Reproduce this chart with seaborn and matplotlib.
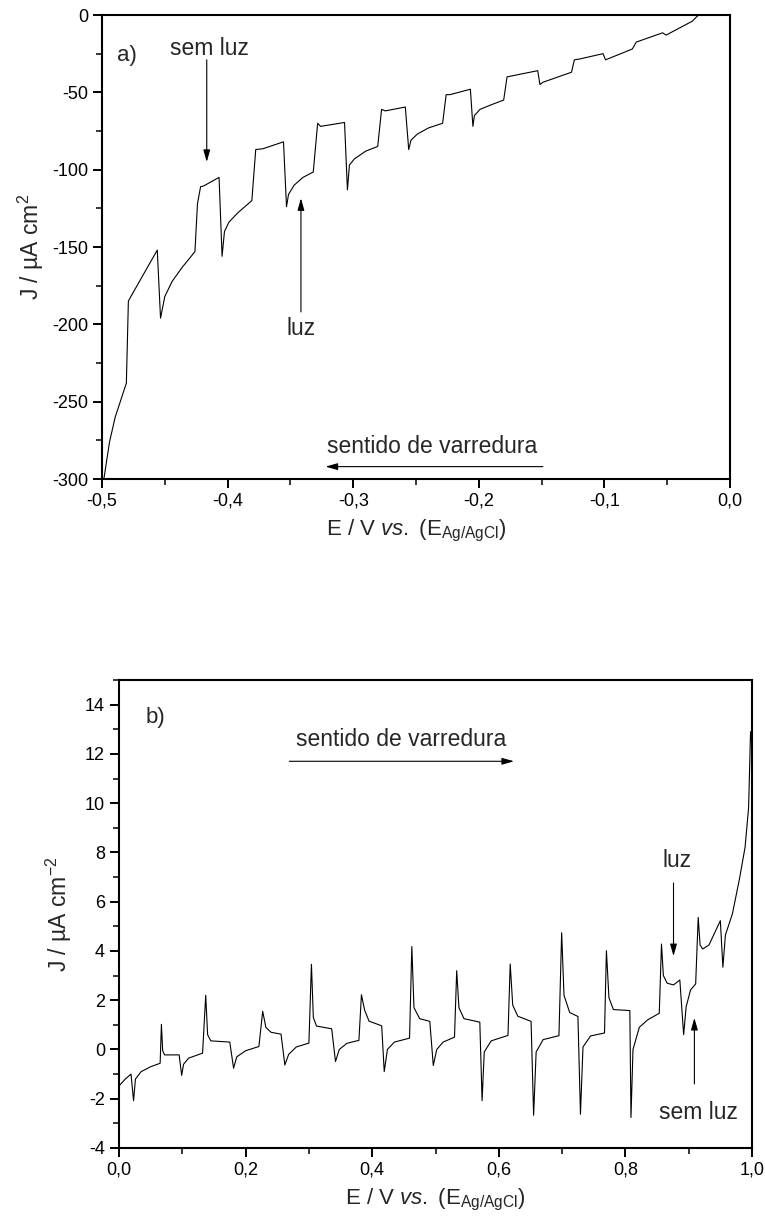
import numpy as np
import pandas as pd
import matplotlib
matplotlib.use("Agg")
import matplotlib.pyplot as plt
import seaborn as sns
from matplotlib.ticker import MultipleLocator, FuncFormatter

# ---------------- data ----------------
# panel a: cathodic scan with chopped light
a_E = [-0.4985, -0.4940, -0.4895, -0.4806, -0.4790, -0.4770, -0.4560, -0.4534, -0.4500, -0.4440,
       -0.4360, -0.4260, -0.4240, -0.4215, -0.4190, -0.4068, -0.4044, -0.4025, -0.3990, -0.3920,
       -0.3807, -0.3776, -0.3720, -0.3555, -0.3531, -0.3515, -0.3470, -0.3400, -0.3318, -0.3283,
       -0.3260, -0.3069, -0.3046, -0.3030, -0.2990, -0.2900, -0.2805, -0.2774, -0.2745, -0.2585,
       -0.2558, -0.2540, -0.2490, -0.2400, -0.2288, -0.2260, -0.2230, -0.2067, -0.2047, -0.2035,
       -0.1990, -0.1900, -0.1802, -0.1775, -0.1745, -0.1531, -0.1513, -0.1490, -0.1262, -0.1239,
       -0.1200, -0.1011, -0.0991, -0.0778, -0.0746, -0.0536, -0.0509, -0.0300, -0.0270, -0.0250]
a_J = [-300, -276, -260, -238, -185, -182, -152, -196, -182, -172,
       -163, -153, -122, -111, -110.5, -105, -156, -140, -134, -128,
       -120, -87, -86.5, -82, -124, -116, -110, -105, -101.5, -70,
       -72, -69.5, -113, -97, -93, -88, -85, -61, -62, -59.5,
       -87, -81, -77, -73, -70, -51.5, -51.5, -48, -72, -65,
       -61, -58, -55, -40, -39.5, -36, -45, -43.5, -37, -29,
       -28.5, -25, -29, -22, -17.5, -11.5, -13, -4, -1.5, 0]

# panel b: anodic scan with chopped light
b_E = [0.000, 0.010, 0.019, 0.023, 0.026, 0.035, 0.050, 0.065, 0.067, 0.069,
       0.072, 0.095, 0.099, 0.102, 0.110, 0.132, 0.137, 0.140, 0.145, 0.175,
       0.181, 0.186, 0.200, 0.221, 0.227, 0.232, 0.240, 0.256, 0.262, 0.268,
       0.280, 0.300, 0.304, 0.307, 0.312, 0.336, 0.342, 0.348, 0.360, 0.379,
       0.383, 0.388, 0.395, 0.415, 0.419, 0.424, 0.435, 0.459, 0.4626, 0.466,
       0.475, 0.491, 0.4965, 0.502, 0.512, 0.530, 0.5335, 0.537, 0.545, 0.570,
       0.5736, 0.577, 0.588, 0.6145, 0.618, 0.622, 0.630, 0.651, 0.655, 0.659,
       0.670, 0.695, 0.6993, 0.703, 0.712, 0.725, 0.729, 0.733, 0.745, 0.767,
       0.770, 0.774, 0.781, 0.807, 0.8088, 0.812, 0.822, 0.835, 0.8535, 0.857,
       0.860, 0.866, 0.876, 0.886, 0.892, 0.896, 0.903, 0.911, 0.915, 0.918,
       0.922, 0.932, 0.950, 0.954, 0.958, 0.969, 0.980, 0.989, 0.9946, 0.9977,
       1.000]
b_J = [-1.48, -1.20, -1.00, -2.08, -1.20, -0.90, -0.70, -0.56, 1.02, -0.05,
       -0.22, -0.22, -1.05, -0.60, -0.35, -0.15, 2.20, 0.60, 0.35, 0.30,
       -0.76, -0.30, -0.05, 0.12, 1.55, 0.90, 0.70, 0.62, -0.63, -0.20,
       0.10, 0.26, 3.46, 1.30, 0.95, 0.84, -0.49, 0.00, 0.25, 0.37,
       2.22, 1.60, 1.15, 0.96, -0.90, 0.00, 0.30, 0.46, 4.18, 1.70,
       1.25, 1.14, -0.65, 0.00, 0.30, 0.50, 3.20, 1.70, 1.25, 1.11,
       -2.08, -0.10, 0.35, 0.57, 3.47, 1.80, 1.35, 1.14, -2.67, -0.10,
       0.40, 0.56, 4.74, 2.20, 1.50, 1.34, -2.63, 0.10, 0.55, 0.67,
       4.01, 2.10, 1.62, 1.58, -2.76, 0.00, 0.90, 1.20, 1.47, 4.28,
       3.00, 2.69, 2.62, 2.82, 0.60, 1.74, 2.42, 2.66, 5.36, 4.24,
       4.08, 4.24, 5.23, 3.34, 4.65, 5.50, 6.90, 8.20, 9.80, 12.90,
       12.30]

a_xticks = [-0.5, -0.4, -0.3, -0.2, -0.1, 0.0]
a_yticks = [0, -50, -100, -150, -200, -250, -300]
b_xticks = [0.0, 0.2, 0.4, 0.6, 0.8, 1.0]
b_yticks = [-4, -2, 0, 2, 4, 6, 8, 10, 12, 14]

df_a = pd.DataFrame({"E": a_E, "J": a_J})
df_b = pd.DataFrame({"E": b_E, "J": b_J})

# ---------------- style ----------------
sns.set_theme(style="ticks")
plt.rcParams["font.family"] = ["Liberation Sans", "DejaVu Sans"]
plt.rcParams["mathtext.fontset"] = "custom"
plt.rcParams["mathtext.rm"] = "Liberation Sans"
plt.rcParams["mathtext.it"] = "Liberation Sans:italic"
plt.rcParams["mathtext.bf"] = "Liberation Sans:bold"

fig = plt.figure(figsize=(7.65, 12.27), dpi=100)
W, H = 765.0, 1227.0
ax_a = fig.add_axes([102 / W, 1 - 479 / H, 628 / W, 464 / H])
ax_b = fig.add_axes([119 / W, 1 - 1148 / H, 633 / W, 468 / H])

sns.lineplot(data=df_a, x="E", y="J", ax=ax_a, sort=False, estimator=None,
             color="black", linewidth=0.8)
sns.lineplot(data=df_b, x="E", y="J", ax=ax_b, sort=False, estimator=None,
             color="black", linewidth=0.8)

comma = FuncFormatter(lambda v, p: f"{v:.1f}".replace(".", ",").replace("-0,0", "0,0"))
intfmt = FuncFormatter(lambda v, p: f"{int(round(v))}")

xlabel = r"E / V $\it{vs.}$ (E$_{\rm Ag/AgCl}$)"

for ax in (ax_a, ax_b):
    for s in ax.spines.values():
        s.set_linewidth(1.5)
        s.set_color("black")
    ax.tick_params(which="major", direction="out", length=6.5, width=1.4,
                   labelsize=13, colors="black", top=False, right=False, pad=3.5)
    ax.tick_params(which="minor", direction="out", length=4, width=1.3,
                   top=False, right=False)
    ax.xaxis.set_major_formatter(comma)
    ax.yaxis.set_major_formatter(intfmt)
    ax.set_xlabel(xlabel, fontsize=16, labelpad=6)

ax_a.set_xlim(-0.5, 0.0)
ax_a.set_ylim(-300, 0)
ax_a.set_xticks(a_xticks)
ax_a.set_yticks(a_yticks)
ax_a.xaxis.set_minor_locator(MultipleLocator(0.05))
ax_a.yaxis.set_minor_locator(MultipleLocator(25))
ax_a.set_ylabel("J / \u00b5A cm$^{2}$", fontsize=16.5, labelpad=4)

ax_b.set_xlim(0.0, 1.0)
ax_b.set_ylim(-4, 15)
ax_b.set_xticks(b_xticks)
ax_b.set_yticks(b_yticks)
ax_b.xaxis.set_minor_locator(MultipleLocator(0.1))
ax_b.yaxis.set_minor_locator(MultipleLocator(1))
ax_b.set_ylabel("J / \u00b5A cm$^{-2}$", fontsize=16.5, labelpad=8)

arrow = dict(arrowstyle="-|>,head_length=0.6,head_width=0.17", color="black",
             lw=0.8, shrinkA=0, shrinkB=0)
fs = 16.5

# panel a annotations
ax_a.text(-0.480, -26, "a)", fontsize=16, ha="center", va="center")
ax_a.text(-0.4148, -21.5, "sem luz", fontsize=fs, ha="center", va="center")
ax_a.annotate("", xy=(-0.4166, -95), xytext=(-0.4166, -29), arrowprops=arrow)
ax_a.text(-0.3412, -203, "luz", fontsize=fs, ha="center", va="center")
ax_a.annotate("", xy=(-0.3416, -118.5), xytext=(-0.3416, -192), arrowprops=arrow)
ax_a.text(-0.237, -279, "sentido de varredura", fontsize=fs, ha="center", va="center")
ax_a.annotate("", xy=(-0.322, -292), xytext=(-0.149, -292), arrowprops=arrow)

# panel b annotations
ax_b.text(0.057, 13.46, "b)", fontsize=16, ha="center", va="center")
ax_b.text(0.445, 12.6, "sentido de varredura", fontsize=fs, ha="center", va="center")
ax_b.annotate("", xy=(0.624, 11.7), xytext=(0.269, 11.7), arrowprops=arrow)
ax_b.text(0.881, 7.69, "luz", fontsize=fs, ha="center", va="center")
ax_b.annotate("", xy=(0.876, 3.79), xytext=(0.876, 6.76), arrowprops=arrow)
ax_b.text(0.916, -2.54, "sem luz", fontsize=fs, ha="center", va="center")
ax_b.annotate("", xy=(0.909, 1.28), xytext=(0.909, -1.4), arrowprops=arrow)

fig.savefig("out.png", dpi=100)
